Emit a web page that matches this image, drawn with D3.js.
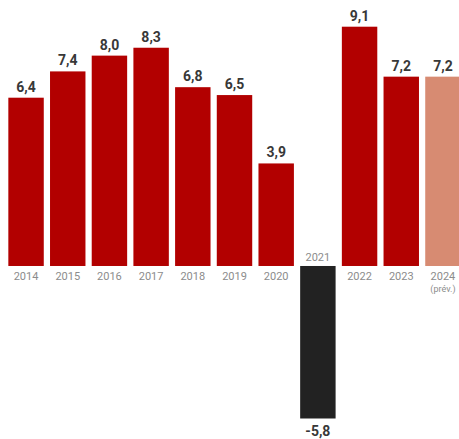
<!DOCTYPE html>
<html>
<head>
<meta charset="utf-8">
<script src="https://cdn.jsdelivr.net/npm/d3@7"></script>
<style>
  body { margin: 0; background: #fff; }
  .value { font-family: Roboto, sans-serif; font-weight: 700; font-size: 14px; fill: #383838; }
  .year { font-family: Roboto, sans-serif; font-size: 11px; fill: #8c8c8c; }
</style>
</head>
<body>
<div class="container"></div>
<script>
var years = ["2014","2015","2016","2017","2018","2019","2020","2021","2022","2023","2024"];
var values = [6.4, 7.4, 8.0, 8.3, 6.8, 6.5, 3.9, -5.8, 9.1, 7.2, 7.2];
var labels = ["6,4","7,4","8,0","8,3","6,8","6,5","3,9","-5,8","9,1","7,2","7,2"];
var forecast = ["2024"];

const WIDTH = 459;
const HEIGHT = 439;

var svg = d3.select('.container').append('svg')
	.attr('width', WIDTH)
	.attr('height', HEIGHT);

var xScale = d3.scaleBand()
	.domain(years)
	.range([5, 464])
	.paddingInner(0.15)
	.paddingOuter(0.08);

var yScale = d3.scaleLinear()
	.domain([-5.8, 9.1])
	.range([418.5, 26.7]);

var colour = function(d, i){
	if (values[i] < 0) return "#222222";
	if (forecast.indexOf(d) >= 0) return "#d78b72";
	return "#b20000";
};

svg.selectAll('rect').data(years)
	.enter().append('rect')
	.attr('x', function(d){ return xScale(d); })
	.attr('width', xScale.bandwidth())
	.attr('y', function(d, i){ return yScale(Math.max(0, values[i])); })
	.attr('height', function(d, i){ return Math.abs(yScale(values[i]) - yScale(0)); })
	.attr('fill', colour);

svg.selectAll('text.value').data(years)
	.enter().append('text')
	.classed('value', true)
	.attr('text-anchor', 'middle')
	.attr('x', function(d){ return xScale(d) + xScale.bandwidth() / 2; })
	.attr('y', function(d, i){ return values[i] < 0 ? yScale(values[i]) + 17 : yScale(values[i]) - 6; })
	.text(function(d, i){ return labels[i]; });

svg.selectAll('text.year').data(years)
	.enter().append('text')
	.classed('year', true)
	.attr('text-anchor', 'middle')
	.attr('x', function(d){ return xScale(d) + xScale.bandwidth() / 2; })
	.attr('y', function(d, i){ return values[i] < 0 ? yScale(0) - 5 : yScale(0) + 14; })
	.text(function(d){ return d; });

svg.append('text')
	.classed('year', true)
	.attr('text-anchor', 'middle')
	.style('font-size', '9px')
	.attr('x', xScale("2024") + xScale.bandwidth() / 2)
	.attr('y', yScale(0) + 26)
	.text("(prév.)");
</script>
</body>
</html>
